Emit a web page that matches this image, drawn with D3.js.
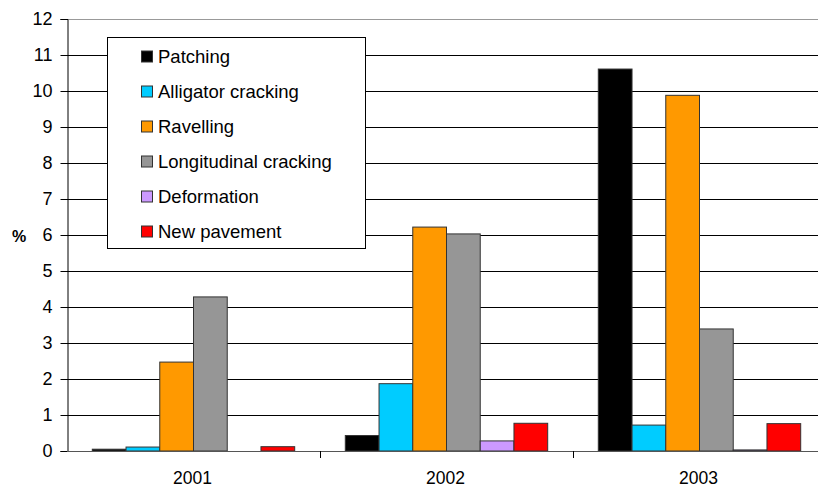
<!DOCTYPE html>
<html>
<head>
<meta charset="utf-8">
<script src="https://cdn.jsdelivr.net/npm/d3@7"></script>
<style>
  body { margin: 0; background: #fff; }
  svg { font-family: "Liberation Sans", Arial, sans-serif; display: block; }
</style>
</head>
<body>
<script>
// chart data
let years = ["2001", "2002", "2003"];
let series = ["Patching", "Alligator cracking", "Ravelling", "Longitudinal cracking", "Deformation", "New pavement"];
let colors = ["#000000", "#00ccff", "#ff9900", "#969696", "#cc99ff", "#ff0000"];
let patching = [0.05, 0.43, 10.61];
let alligator = [0.11, 1.87, 0.72];
let ravelling = [2.47, 6.22, 9.88];
let longitudinal = [4.28, 6.03, 3.39];
let deformation = [0, 0.28, 0.03];
let newPavement = [0.12, 0.77, 0.76];
let yTicks = [0, 1, 2, 3, 4, 5, 6, 7, 8, 9, 10, 11, 12];

let values = [patching, alligator, ravelling, longitudinal, deformation, newPavement];

let width = 818, height = 488;

let svg = d3.select("body").append("svg")
  .attr("width", width)
  .attr("height", height);

// scales
let x0 = d3.scaleBand().domain(years).range([67, 826]).padding(0);
let x1 = d3.scaleBand().domain(series)
  .range([0, x0.bandwidth()])
  .paddingInner(0)
  .paddingOuter(0.75);
let y = d3.scaleLinear().domain([0, 12]).range([451, 19]);

// gridlines
svg.append("g")
  .selectAll("line")
  .data(yTicks.slice(1))
  .join("line")
  .attr("x1", 67)
  .attr("x2", width)
  .attr("y1", d => Math.round(y(d)) + 0.5)
  .attr("y2", d => Math.round(y(d)) + 0.5)
  .attr("stroke", d => d === 12 ? "#999" : "#000")
  .attr("stroke-width", 1);

// bars
let rows = [];
series.forEach((s, i) => {
  years.forEach((yr, j) => {
    rows.push({ series: s, year: yr, value: values[i][j], color: colors[i] });
  });
});

svg.append("g")
  .selectAll("rect")
  .data(rows)
  .join("rect")
  .attr("x", d => x0(d.year) + x1(d.series))
  .attr("y", d => y(d.value))
  .attr("width", x1.bandwidth())
  .attr("height", d => y(0) - y(d.value))
  .attr("fill", d => d.color)
  .attr("stroke", "#333")
  .attr("stroke-width", 1);

// y axis
let yAxis = svg.append("g")
  .attr("transform", "translate(67.5,0)")
  .call(d3.axisLeft(y).tickValues(yTicks).tickSize(7).tickPadding(8).tickFormat(d3.format("d")));
yAxis.attr("font-size", null).attr("font-family", null);
yAxis.select(".domain").attr("stroke", "#000");
yAxis.selectAll(".tick line").attr("stroke", "#000");
yAxis.selectAll("text").style("font-size", "18px").attr("fill", "#000");

// x axis
let xAxisLine = svg.append("g");
xAxisLine.append("line")
  .attr("x1", 67).attr("x2", width)
  .attr("y1", 451.5).attr("y2", 451.5)
  .attr("stroke", "#555");
xAxisLine.selectAll("line.tk")
  .data(years.slice(1))
  .join("line")
  .attr("class", "tk")
  .attr("x1", d => Math.round(x0(d)) + 0.5)
  .attr("x2", d => Math.round(x0(d)) + 0.5)
  .attr("y1", 451)
  .attr("y2", 458)
  .attr("stroke", "#000");
xAxisLine.selectAll("text")
  .data(years)
  .join("text")
  .attr("x", d => x0(d) + x0.bandwidth() / 2 - 1)
  .attr("y", 484)
  .attr("text-anchor", "middle")
  .style("font-size", "17.5px")
  .text(d => d);

// y label
svg.append("text")
  .attr("x", 19)
  .attr("y", 241.5)
  .attr("text-anchor", "middle")
  .style("font-size", "16px")
  .attr("font-weight", "bold")
  .text("%");

// legend
let legend = svg.append("g");
legend.append("rect")
  .attr("x", 107.5).attr("y", 37.5)
  .attr("width", 258).attr("height", 211)
  .attr("fill", "#fff")
  .attr("stroke", "#000");

let item = legend.selectAll("g.item")
  .data(series)
  .join("g")
  .attr("class", "item")
  .attr("transform", (d, i) => "translate(141," + (56.5 + i * 35) + ")");

item.append("rect")
  .attr("x", 0.5).attr("y", -5.5)
  .attr("width", 11).attr("height", 11)
  .attr("fill", (d, i) => colors[i])
  .attr("stroke", "#333");

item.append("text")
  .attr("x", 17)
  .attr("y", 6)
  .style("font-size", "18.5px")
  .text(d => d);
</script>
</body>
</html>
